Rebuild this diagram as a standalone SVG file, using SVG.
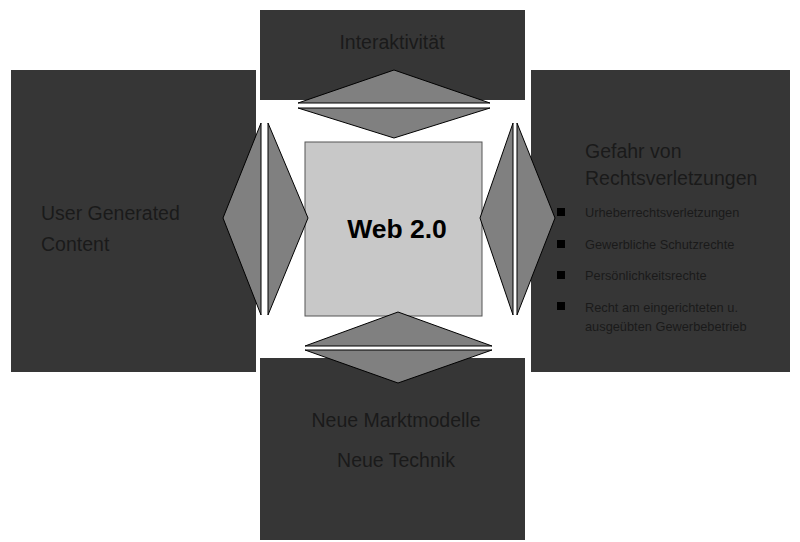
<svg xmlns="http://www.w3.org/2000/svg" width="800" height="542" viewBox="0 0 800 542">
<style>
.box{fill:#363636;stroke:none}
.arr{fill:#808080;stroke:#000;stroke-width:1;stroke-linejoin:miter}
.t{font-family:"Liberation Sans",Arial,sans-serif;fill:#1a1a1a}
.big{font-size:19.5px}
.sm{font-size:12.8px}
.bul{fill:#000}
</style>
<rect width="800" height="542" fill="#fff"/>
<g id="top">
<rect class="box" x="260" y="10" width="265" height="90"/>
<text class="t big" x="392" y="49" text-anchor="middle">Interaktivität</text>
</g>
<g id="left">
<rect class="box" x="11" y="70" width="245" height="302"/>
<text class="t big" x="41" y="220">User Generated</text>
<text class="t big" x="41" y="251">Content</text>
</g>
<g id="right">
<rect class="box" x="531" y="70" width="259" height="302"/>
<text class="t big" x="585" y="158">Gefahr von</text>
<text class="t big" x="585" y="185">Rechtsverletzungen</text>
<rect class="bul" x="557" y="208" width="8" height="8"/>
<text class="t sm" x="585" y="217">Urheberrechtsverletzungen</text>
<rect class="bul" x="557" y="240" width="8" height="8"/>
<text class="t sm" x="585" y="249">Gewerbliche Schutzrechte</text>
<rect class="bul" x="557" y="271" width="8" height="8"/>
<text class="t sm" x="585" y="280">Persönlichkeitsrechte</text>
<rect class="bul" x="557" y="302" width="8" height="8"/>
<text class="t sm" x="585" y="312">Recht am eingerichteten u.</text>
<text class="t sm" x="585" y="331">ausgeübten Gewerbebetrieb</text>
</g>
<g id="bottom">
<rect class="box" x="260" y="358" width="265" height="182"/>
<text class="t big" x="396" y="427" text-anchor="middle">Neue Marktmodelle</text>
<text class="t big" x="396" y="467" text-anchor="middle">Neue Technik</text>
</g>
<g id="center">
<rect x="305" y="142" width="177" height="174" fill="#c8c8c8" stroke="#555" stroke-width="1"/>
<text x="397" y="238" text-anchor="middle" font-family="'Liberation Sans',Arial,sans-serif" font-weight="bold" font-size="26.5" fill="#000">Web 2.0</text>
</g>
<g id="connectors">
<polygon class="arr" points="394,70 490,103 298,103"/>
<polygon class="arr" points="298,108 490,108 394,138"/>
<polygon class="arr" points="261,123 261,315 223,218"/>
<polygon class="arr" points="268,123 308,218 268,315"/>
<polygon class="arr" points="513,123 513,315 480,218"/>
<polygon class="arr" points="517,123 555,218 517,315"/>
<polygon class="arr" points="398,312 492,346 305,346"/>
<polygon class="arr" points="305,350 492,350 398,383"/>
</g>
</svg>
